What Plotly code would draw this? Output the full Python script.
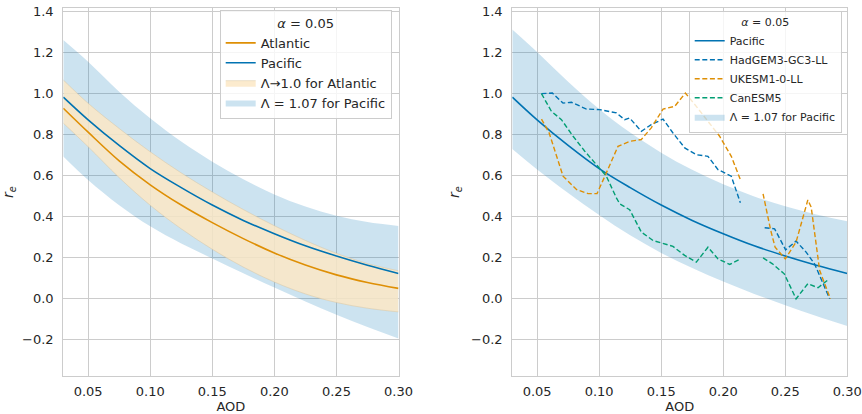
import plotly.graph_objects as go

# ---------------- data ----------------
AOD = [0.03, 0.05, 0.075, 0.10, 0.125, 0.15, 0.175, 0.20, 0.225, 0.25, 0.275, 0.30]

pacific = [0.983, 0.872, 0.747, 0.634, 0.541, 0.456, 0.381, 0.316, 0.257, 0.207, 0.162, 0.122]
atlantic = [0.929, 0.812, 0.672, 0.555, 0.456, 0.370, 0.292, 0.222, 0.163, 0.115, 0.078, 0.049]

atl_band_hi = [1.067, 0.953, 0.830, 0.716, 0.613, 0.520, 0.434, 0.355, 0.283, 0.220, 0.170, 0.135]
atl_band_lo = [0.856, 0.741, 0.590, 0.455, 0.340, 0.240, 0.153, 0.080, 0.022, -0.020, -0.048, -0.066]

pac_band_hi_left = [1.262, 1.156, 1.010, 0.880, 0.766, 0.668, 0.582, 0.508, 0.449, 0.404, 0.373, 0.354]
pac_band_lo_left = [0.693, 0.578, 0.455, 0.352, 0.268, 0.195, 0.123, 0.053, -0.015, -0.080, -0.140, -0.196]

pac_band_hi_right = [1.313, 1.203, 1.058, 0.925, 0.810, 0.712, 0.628, 0.557, 0.498, 0.450, 0.410, 0.377]
pac_band_lo_right = [0.730, 0.630, 0.515, 0.407, 0.308, 0.222, 0.148, 0.082, 0.022, -0.034, -0.086, -0.135]

hadgem_x = [0.0535, 0.0623, 0.0709, 0.0777, 0.0897, 0.1005, 0.1139, 0.1206, 0.1246, 0.134, 0.142,
            0.1515, 0.1595, 0.169, 0.1783, 0.1877, 0.1958, 0.2065, 0.2138, None,
            0.2334, 0.2414, 0.2503, 0.2587, 0.2668, 0.2736, 0.2858]
hadgem_y = [1.0, 1.003, 0.954, 0.958, 0.925, 0.922, 0.906, 0.873, 0.881, 0.816, 0.849,
            0.876, 0.808, 0.735, 0.702, 0.694, 0.629, 0.597, 0.467, None,
            0.345, 0.340, 0.237, 0.280, 0.226, 0.169, -0.002]

ukesm_x = [0.0535, 0.0597, 0.0709, 0.0817, 0.091, 0.0983, 0.1058, 0.1152, 0.1246, 0.134, 0.142,
           0.1515, 0.1609, 0.1695, 0.1783, 0.189, 0.1971, 0.2065, 0.2138, None,
           0.2321, 0.2383, 0.2418, 0.2500, 0.2587, 0.2641, 0.2682, 0.2709, 0.2777, 0.2864]
ukesm_y = [0.876, 0.808, 0.597, 0.532, 0.512, 0.512, 0.613, 0.743, 0.767, 0.776, 0.833,
           0.925, 0.938, 1.003, 0.938, 0.857, 0.792, 0.694, 0.580, None,
           0.511, 0.332, 0.250, 0.193, 0.275, 0.397, 0.481, 0.446, 0.137, -0.002]

canesm_x = [0.0535, 0.0615, 0.0696, 0.0790, 0.0884, 0.0964, 0.1058, 0.1139, 0.1166, 0.1246, 0.134,
            0.1434, 0.1595, 0.1689, 0.1783, 0.1877, 0.1958, 0.2052, 0.2138, None,
            0.2321, 0.2397, 0.2492, 0.2587, 0.2682, 0.2764, 0.2845]
canesm_y = [1.0, 0.914, 0.873, 0.792, 0.719, 0.662, 0.597, 0.491, 0.462, 0.433, 0.324,
            0.283, 0.254, 0.210, 0.177, 0.250, 0.193, 0.166, 0.193, None,
            0.198, 0.169, 0.120, -0.002, 0.072, 0.052, 0.091]

x_ticks = [0.05, 0.10, 0.15, 0.20, 0.25, 0.30]
x_tick_labels = ["0.05", "0.10", "0.15", "0.20", "0.25", "0.30"]
y_ticks = [-0.2, 0.0, 0.2, 0.4, 0.6, 0.8, 1.0, 1.2, 1.4]
y_tick_labels = ["\u22120.2", "0.0", "0.2", "0.4", "0.6", "0.8", "1.0", "1.2", "1.4"]

# ---------------- styling ----------------
BLUE = "#0173b2"
ORANGE = "#de8f05"
GREEN = "#029e73"
BLUE_FILL = "rgba(1,115,178,0.2)"
ORANGE_FILL = "rgba(252,232,197,0.85)"
FONT = "DejaVu Sans"
TXT = "#262626"
GRID = "#cccccc"
W, H = 862, 414

fig = go.Figure()


def add_band(x, lo, hi, name, fill, xa, ya, legend, rank, edge, ew):
    fig.add_trace(go.Scatter(x=x, y=lo, mode="lines", showlegend=False, hoverinfo="skip",
                             line=dict(color=edge, width=ew, shape="spline"),
                             xaxis=xa, yaxis=ya))
    fig.add_trace(go.Scatter(x=x, y=hi, mode="lines", fill="tonexty", fillcolor=fill,
                             line=dict(color=edge, width=ew, shape="spline"),
                             name=name, legend=legend, legendrank=rank,
                             xaxis=xa, yaxis=ya))


# left panel
add_band(AOD, pac_band_lo_left, pac_band_hi_left, "\u039b = 1.07 for Pacific", BLUE_FILL,
         "x", "y", "legend", 4, "rgba(0,0,0,0)", 0)
add_band(AOD, atl_band_lo, atl_band_hi, "\u039b\u21921.0 for Atlantic", ORANGE_FILL,
         "x", "y", "legend", 3, "rgba(215,195,160,0.6)", 0.8)
fig.add_trace(go.Scatter(x=AOD, y=atlantic, mode="lines", name="Atlantic",
                         line=dict(color=ORANGE, width=1.6, shape="spline"),
                         legend="legend", legendrank=1, xaxis="x", yaxis="y"))
fig.add_trace(go.Scatter(x=AOD, y=pacific, mode="lines", name="Pacific",
                         line=dict(color=BLUE, width=1.6, shape="spline"),
                         legend="legend", legendrank=2, xaxis="x", yaxis="y"))

# right panel
add_band(AOD, pac_band_lo_right, pac_band_hi_right, "\u039b = 1.07 for Pacific", BLUE_FILL,
         "x2", "y2", "legend2", 5, "rgba(0,0,0,0)", 0)
fig.add_trace(go.Scatter(x=AOD, y=pacific, mode="lines", name="Pacific",
                         line=dict(color=BLUE, width=1.6, shape="spline"),
                         legend="legend2", legendrank=1, xaxis="x2", yaxis="y2"))
DASH = "5px,2.6px"
fig.add_trace(go.Scatter(x=hadgem_x, y=hadgem_y, mode="lines", name="HadGEM3-GC3-LL",
                         line=dict(color=BLUE, width=1.4, dash=DASH),
                         legend="legend2", legendrank=2, xaxis="x2", yaxis="y2"))
fig.add_trace(go.Scatter(x=ukesm_x, y=ukesm_y, mode="lines", name="UKESM1-0-LL",
                         line=dict(color=ORANGE, width=1.4, dash=DASH),
                         legend="legend2", legendrank=3, xaxis="x2", yaxis="y2"))
fig.add_trace(go.Scatter(x=canesm_x, y=canesm_y, mode="lines", name="CanESM5",
                         line=dict(color=GREEN, width=1.4, dash=DASH),
                         legend="legend2", legendrank=4, xaxis="x2", yaxis="y2"))

YR = [-0.379, 1.417]
XR = [0.03, 0.30]
ydom = [(H - 376) / H, (H - 8.3) / H]

xcommon = dict(range=XR, tickvals=x_ticks, ticktext=x_tick_labels, showgrid=True,
               gridcolor=GRID, gridwidth=1, showline=True, mirror=True, linecolor=GRID,
               linewidth=1.2, ticks="", zeroline=False, ticklabelstandoff=3,
               automargin=False,
               tickfont=dict(family=FONT, size=13, color=TXT),
               title=dict(text="AOD", font=dict(family=FONT, size=13, color=TXT), standoff=2))
ycommon = dict(range=YR, tickvals=y_ticks, ticktext=y_tick_labels, showgrid=True,
               gridcolor=GRID, gridwidth=1, showline=True, mirror=True, linecolor=GRID,
               linewidth=1.2, ticks="", zeroline=False, ticklabelstandoff=6,
               automargin=False,
               tickfont=dict(family=FONT, size=13, color=TXT),
               title=dict(text="<i>r<sub>e</sub></i>", font=dict(family=FONT, size=14, color=TXT),
                          standoff=8))

legend_common = dict(bgcolor="rgba(255,255,255,0.8)", bordercolor=GRID, borderwidth=1,
                     xanchor="right", yanchor="top", traceorder="normal",
                     itemwidth=30)

fig.update_layout(
    width=W, height=H,
    margin=dict(l=0, r=0, t=0, b=0, autoexpand=False),
    paper_bgcolor="white", plot_bgcolor="white",
    font=dict(family=FONT, color=TXT),
    xaxis=dict(domain=[63.3 / W, 398.5 / W], anchor="y", **xcommon),
    yaxis=dict(domain=ydom, anchor="x", **ycommon),
    xaxis2=dict(domain=[512.3 / W, 847.3 / W], anchor="y2", **xcommon),
    yaxis2=dict(domain=ydom, anchor="x2", **ycommon),
    legend=dict(x=391.7 / W, y=1 - 10 / H,
                title=dict(text="<i>\u03b1</i> = 0.05", side="top center",
                           font=dict(family=FONT, size=13, color=TXT)),
                font=dict(family=FONT, size=13, color=TXT), **legend_common),
    legend2=dict(x=841.7 / W, y=1 - 11 / H,
                 title=dict(text="<i>\u03b1</i> = 0.05", side="top center",
                            font=dict(family=FONT, size=11, color=TXT)),
                 font=dict(family=FONT, size=11, color=TXT), **legend_common),
    showlegend=True,
)

fig.write_html("out.html", config={"displayModeBar": False},
               post_script="document.body.style.margin='0';document.body.style.padding='0';")
